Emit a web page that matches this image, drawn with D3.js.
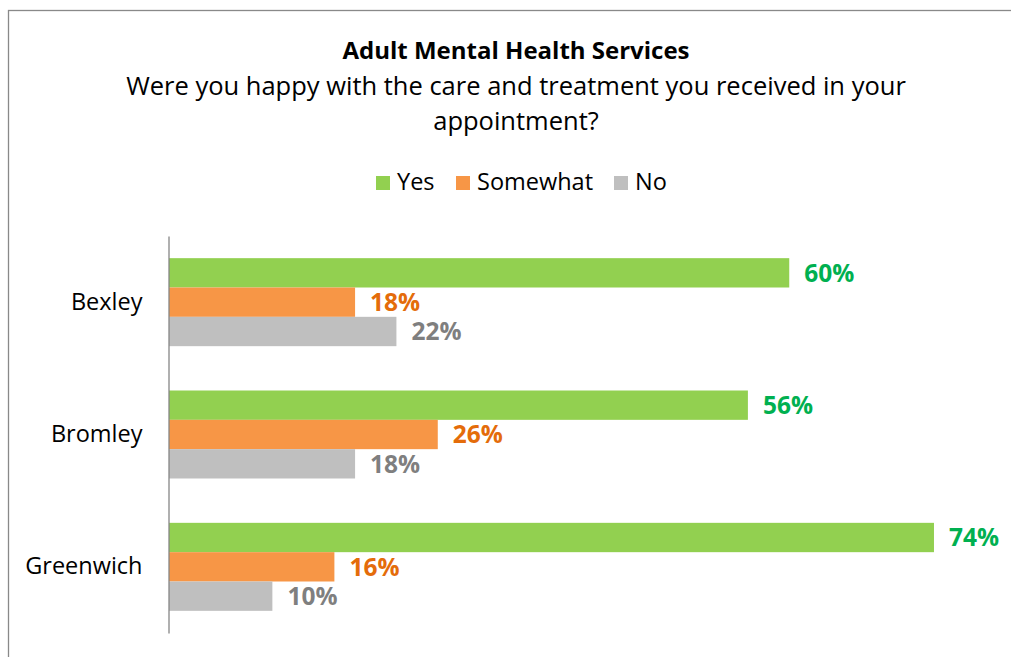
<!DOCTYPE html>
<html>
<head>
<meta charset="utf-8">
<script src="https://cdn.jsdelivr.net/npm/d3@7"></script>
<style>
  body { margin: 0; background: #fff; }
  svg text { font-family: "Open Sans", "Noto Sans", sans-serif; }
</style>
</head>
<body>
<div id="barChart"></div>
<script>
const CATEGORIES = ['Bexley', 'Bromley', 'Greenwich'];
const SERIES = ['Yes', 'Somewhat', 'No'];
const YES_VALUES = [0.60, 0.56, 0.74];
const SOMEWHAT_VALUES = [0.18, 0.26, 0.16];
const NO_VALUES = [0.22, 0.18, 0.10];
const TITLE = "Adult Mental Health Services";
const SUBTITLE_LINES = ["Were you happy with the care and treatment you received in your",
                        "appointment?"];

const BAR_COLOURS = ["#92D050", "#F79646", "#BFBFBF"];
const LABEL_COLOURS = ["#00B050", "#E46C0A", "#7F7F7F"];

function plotBars() {
  var width = 1011;
  var height = 657;
  var values = [YES_VALUES, SOMEWHAT_VALUES, NO_VALUES];

  var svg = d3.select("#barChart")
    .append("svg")
      .attr("width", width)
      .attr("height", height);

  // chart border
  svg.append("rect")
      .attr("x", 8.5)
      .attr("y", 10.5)
      .attr("width", 1010)
      .attr("height", 700)
      .attr("fill", "none")
      .attr("stroke", "#898989")
      .attr("stroke-width", 1.3);

  // titles
  svg.append("text")
      .attr("x", 516)
      .attr("y", 59)
      .attr("text-anchor", "middle")
      .attr("font-size", "24px")
      .attr("font-weight", "bold")
      .text(TITLE);
  svg.selectAll(".subtitle")
    .data(SUBTITLE_LINES)
    .enter()
    .append("text")
      .attr("class", "subtitle")
      .attr("x", 516)
      .attr("y", function(d, i) { return 95 + i * 35; })
      .attr("text-anchor", "middle")
      .attr("font-size", "25.5px")
      .attr("fill", "#000")
      .text(function(d) { return d; });

  // legend
  var legendX = [376, 456, 614];
  var legend = svg.append("g");
  SERIES.forEach(function(name, i) {
    legend.append("rect")
        .attr("x", legendX[i])
        .attr("y", 176)
        .attr("width", 14)
        .attr("height", 14)
        .attr("fill", BAR_COLOURS[i]);
    legend.append("text")
        .attr("x", legendX[i] + 21)
        .attr("y", 190)
        .attr("font-size", "23.5px")
        .text(name);
  });

  // scales
  var x = d3.scaleLinear()
            .domain([0, 0.8])
            .range([169, 996]);
  var y = d3.scaleBand()
            .domain(CATEGORIES)
            .range([236, 633])
            .paddingInner(0.335)
            .paddingOuter(0.1675);
  var ySeries = d3.scaleBand()
            .domain(SERIES)
            .range([0, y.bandwidth()]);

  // bars
  var groups = svg.append("g")
    .selectAll("g")
    .data(CATEGORIES)
    .enter()
    .append("g")
      .attr("transform", function(d) { return "translate(0," + y(d) + ")"; });

  groups.selectAll("rect")
    .data(function(d, ci) {
      return SERIES.map(function(s, si) { return {series: s, si: si, value: values[si][ci]}; });
    })
    .enter()
    .append("rect")
      .attr("x", x(0))
      .attr("y", function(d) { return ySeries(d.series); })
      .attr("width", function(d) { return x(d.value) - x(0); })
      .attr("height", ySeries.bandwidth())
      .attr("fill", function(d) { return BAR_COLOURS[d.si]; });

  // data labels
  groups.selectAll("text")
    .data(function(d, ci) {
      return SERIES.map(function(s, si) { return {series: s, si: si, value: values[si][ci]}; });
    })
    .enter()
    .append("text")
      .attr("x", function(d) { return x(d.value) + 15; })
      .attr("y", function(d) { return ySeries(d.series) + ySeries.bandwidth() / 2; })
      .attr("dy", "0.36em")
      .attr("font-size", "24.5px")
      .attr("font-weight", "bold")
      .attr("fill", function(d) { return LABEL_COLOURS[d.si]; })
      .text(function(d) { return d3.format(".0%")(d.value); });

  // category axis
  var yAxis = svg.append("g")
      .attr("transform", "translate(168.5,0)")
      .call(d3.axisLeft(y).tickSize(0).tickPadding(26));
  yAxis.select(".domain")
      .attr("stroke", "#868686")
      .attr("stroke-width", 1.3);
  yAxis.selectAll("text")
      .attr("font-size", "23.5px")
      .attr("fill", "#000")
      .attr("font-family", null);
}

plotBars();
</script>
</body>
</html>
